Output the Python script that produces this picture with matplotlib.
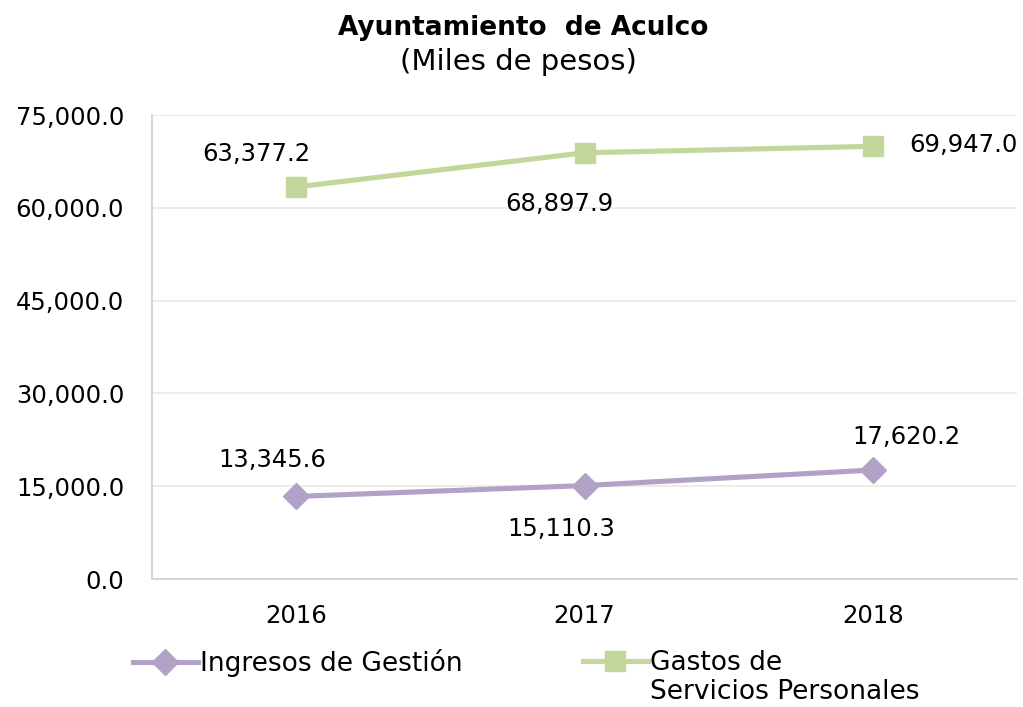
import matplotlib.pyplot as plt
from matplotlib.lines import Line2D

plt.rcParams['font.family'] = ['DejaVu Sans']

years = ["2016", "2017", "2018"]
ingresos = [13345.6, 15110.3, 17620.2]
gastos = [63377.2, 68897.9, 69947.0]
names = ["Ingresos de Gestión", "Gastos de\nServicios Personales"]

purple = "#B3A2C7"
green = "#C3D69B"
fs = 17.5
fs_leg = 19

fig = plt.figure(figsize=(10.23, 7.07), dpi=100)
ax = fig.add_axes([0.1486, 0.181, 0.8456, 0.6563])

x = range(len(years))
ax.plot(x, ingresos, color=purple, lw=3.7, marker="D", ms=13)
ax.plot(x, gastos, color=green, lw=3.7, marker="s", ms=14.5)

# data labels (offsets in points, placed like the original)
lab_g = [(-29, 24), (-18, -37), (65, 1)]
lab_i = [(-17, 26), (-17, -31), (24, 24)]
for i in x:
    ax.annotate(f"{gastos[i]:,.1f}", (i, gastos[i]), xytext=lab_g[i],
                textcoords="offset points", ha="center", va="center", fontsize=fs)
    ax.annotate(f"{ingresos[i]:,.1f}", (i, ingresos[i]), xytext=lab_i[i],
                textcoords="offset points", ha="center", va="center", fontsize=fs)

ax.set_xlim(-0.5, 2.5)
ax.set_ylim(0, 75000)
ticks = list(range(0, 75001, 15000))
ax.set_yticks(ticks)
ax.set_yticklabels([f"{v:,.1f}" for v in ticks], fontsize=fs)
ax.set_xticks(list(x))
ax.set_xticklabels(years, fontsize=fs)
ax.tick_params(axis="y", length=0, pad=20)
ax.tick_params(axis="x", length=0, pad=18)
ax.yaxis.grid(True, color="#EDEBE0", lw=1.3)
ax.set_axisbelow(True)
for s in ["top", "right"]:
    ax.spines[s].set_visible(False)
for s in ["left", "bottom"]:
    ax.spines[s].set_color("#D4D4CC")
    ax.spines[s].set_linewidth(1.3)

fig.text(0.511, 0.961, "Ayuntamiento  de Aculco", ha="center", va="center",
         fontsize=19, fontweight="bold")
fig.text(0.507, 0.913, "(Miles de pesos)", ha="center", va="center", fontsize=21)

# legend: one entry each, the second label wraps onto a line below
h1 = Line2D([], [], color=purple, lw=3.7, marker="D", ms=13)
h2 = Line2D([], [], color=green, lw=3.7, marker="s", ms=14.5)
first, second = names[1].split("\n")
kw = dict(frameon=False, fontsize=fs_leg, handlelength=2.45, handletextpad=0.08,
          borderpad=0, borderaxespad=0, loc="center left")
leg1 = fig.legend([h1], [names[0]], bbox_to_anchor=(133 / 1023, 1 - 663 / 707), **kw)
fig.legend([h2], [first], bbox_to_anchor=(583 / 1023, 1 - 663 / 707), **kw)
fig.text(650 / 1023, 1 - 692 / 707, second, ha="left", va="center", fontsize=fs_leg)

fig.savefig("out.png", dpi=100)
